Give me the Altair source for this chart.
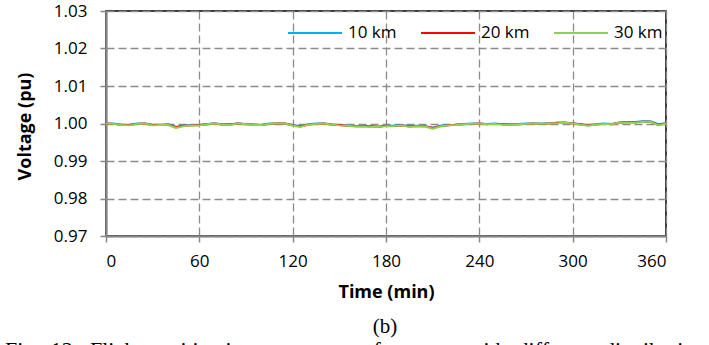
import altair as alt
import pandas as pd

# ---- data ----
times = list(range(0, 361, 5))

v10 = [1.0000, 1.0000, 0.9997, 0.9997, 1.0000, 1.0000, 0.9997, 0.9997, 0.9998, 0.9991,
       0.9995, 0.9996, 0.9996, 0.9999, 1.0000, 0.9998, 0.9998, 1.0000, 0.9999, 0.9997,
       0.9997, 1.0000, 1.0000, 1.0000, 0.9996, 0.9993, 0.9998, 1.0000, 1.0000, 0.9998,
       0.9996, 0.9995, 0.9993, 0.9994, 0.9993, 0.9992, 0.9994, 0.9994, 0.9996, 0.9993,
       0.9994, 0.9993, 0.9989, 0.9994, 0.9996, 0.9997, 0.9999, 1.0000, 1.0000, 0.9999,
       1.0000, 0.9998, 0.9998, 0.9999, 1.0000, 1.0000, 1.0000, 1.0001, 1.0002, 1.0003,
       1.0001, 0.9998, 0.9996, 0.9998, 1.0000, 0.9999, 1.0003, 1.0004, 1.0004, 1.0006,
       1.0006, 0.9998, 1.0001]

v20 = [1.0000, 0.9999, 0.9996, 0.9996, 0.9999, 1.0000, 0.9996, 0.9996, 0.9997, 0.9990,
       0.9994, 0.9995, 0.9996, 0.9998, 1.0000, 0.9997, 0.9998, 1.0000, 0.9998, 0.9997,
       0.9996, 0.9999, 1.0000, 1.0000, 0.9995, 0.9992, 0.9997, 0.9999, 1.0000, 0.9997,
       0.9996, 0.9994, 0.9993, 0.9993, 0.9992, 0.9991, 0.9994, 0.9993, 0.9995, 0.9992,
       0.9993, 0.9993, 0.9988, 0.9993, 0.9995, 0.9997, 0.9998, 0.9999, 1.0000, 0.9998,
       0.9999, 0.9998, 0.9997, 0.9998, 0.9999, 1.0000, 0.9999, 1.0000, 1.0002, 1.0002,
       1.0000, 0.9998, 0.9995, 0.9997, 0.9999, 0.9998, 1.0002, 1.0004, 1.0003, 1.0005,
       1.0005, 0.9996, 1.0001]

v30 = [1.0000, 0.9999, 0.9996, 0.9995, 0.9999, 1.0000, 0.9995, 0.9996, 0.9996, 0.9988,
       0.9993, 0.9995, 0.9995, 0.9998, 1.0000, 0.9997, 0.9997, 1.0000, 0.9998, 0.9996,
       0.9996, 0.9999, 1.0000, 1.0000, 0.9994, 0.9991, 0.9997, 0.9999, 1.0000, 0.9997,
       0.9995, 0.9994, 0.9992, 0.9992, 0.9991, 0.9991, 0.9993, 0.9993, 0.9995, 0.9991,
       0.9993, 0.9992, 0.9986, 0.9992, 0.9995, 0.9996, 0.9998, 0.9999, 1.0000, 0.9998,
       0.9999, 0.9997, 0.9997, 0.9998, 0.9999, 1.0000, 0.9999, 1.0000, 1.0001, 1.0002,
       1.0000, 0.9997, 0.9994, 0.9997, 0.9999, 0.9998, 1.0002, 1.0003, 1.0002, 1.0004,
       1.0005, 0.9995, 1.0000]

series = ["10 km", "20 km", "30 km"]
colors = ["#00B0F0", "#FF0000", "#92D050"]
widths = [2.0, 2.0, 3.4]

y_ticks = [0.97, 0.98, 0.99, 1.00, 1.01, 1.02, 1.03]
x_ticks = [0, 60, 120, 180, 240, 300, 360]

caption_b = "(b)"
caption_words = ["Fig.", "12:", "Flicker", "mitigation", "strategy", "performance",
                 "with", "different", "distribution"]
caption_fig = "\u00a0\u00a0".join(caption_words)

rows = []
for name, vals in zip(series, [v10, v20, v30]):
    for t, v in zip(times, vals):
        rows.append({"t": t, "v": v, "s": name})
df = pd.DataFrame(rows)

FONT = "Open Sans"
GRID = "#8C8C8C"
AXIS = "#868686"

lines = alt.Chart(df).mark_line(strokeJoin="round").encode(
    x=alt.X("t:Q", scale=alt.Scale(domain=[0, 360], nice=False),
            axis=alt.Axis(values=x_ticks, title="Time (min)", format="d",
                          titleX=280, titleY=56, titleBaseline="middle",
                          labelPadding=11)),
    y=alt.Y("v:Q", scale=alt.Scale(domain=[0.97, 1.03], nice=False, zero=False),
            axis=alt.Axis(values=y_ticks, title="Voltage (pu)", format=".2f",
                          titleX=-81, titleY=115, titleAngle=-90,
                          titleAlign="center", titleBaseline="middle",
                          labelPadding=13)),
    color=alt.Color("s:N", scale=alt.Scale(domain=series, range=colors),
                    legend=alt.Legend(title=None, orient="none", legendX=181, legendY=-6,
                                      direction="horizontal", symbolType="stroke",
                                      symbolSize=2916, symbolStrokeWidth=3,
                                      labelFontSize=17, labelFont=FONT, labelColor="black",
                                      labelOffset=5, columnPadding=20, padding=0)),
    strokeWidth=alt.StrokeWidth("s:N", scale=alt.Scale(domain=series, range=widths),
                                legend=None),
)

txt_b = alt.Chart(pd.DataFrame({"c": [caption_b]})).mark_text(
    font="Liberation Serif", fontSize=21, align="center", baseline="alphabetic",
    color="black").encode(text="c:N", x=alt.value(279), y=alt.value(322))

txt_fig = alt.Chart(pd.DataFrame({"c": [caption_fig]})).mark_text(
    font="Liberation Serif", fontSize=22, align="left", baseline="alphabetic",
    color="black").encode(text="c:N", x=alt.value(-101), y=alt.value(346))

chart = alt.layer(lines, txt_b, txt_fig).properties(
    width=560, height=225,
    autosize=alt.AutoSizeParams(type="none"),
    padding={"left": 106, "top": 11, "right": 43, "bottom": 109},
    background="white",
).configure_view(
    stroke="black", strokeWidth=1.5
).configure_axis(
    labelFont=FONT, labelFontSize=17, labelColor="black",
    titleFont=FONT, titleFontSize=18, titleFontWeight="bold", titleColor="black",
    domainColor=AXIS, domainWidth=2.2,
    tickColor=AXIS, tickWidth=1.5, tickSize=6,
    grid=True, gridColor=GRID, gridDash=[8, 4], gridWidth=1.3,
)

chart.save("out.html", embed_options={"renderer": "svg", "actions": False})
